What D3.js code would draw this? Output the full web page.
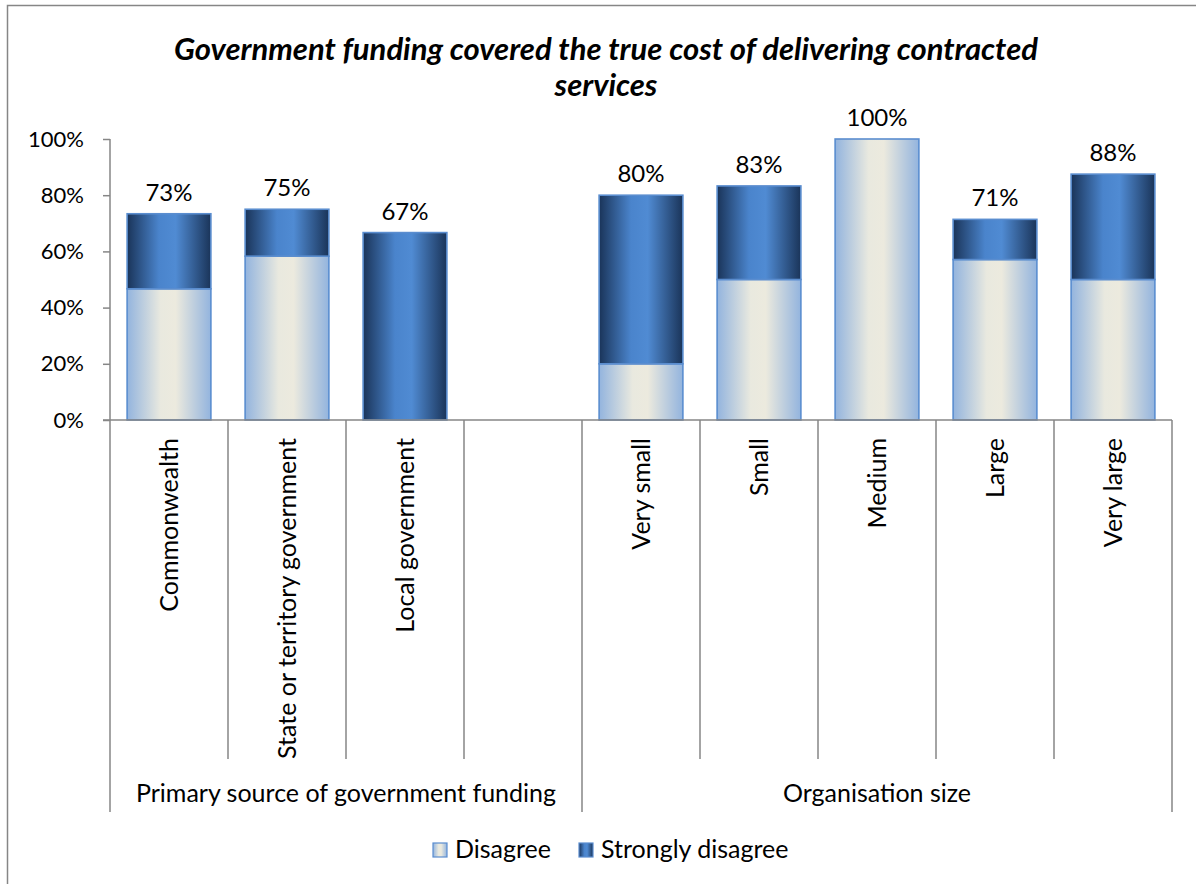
<!DOCTYPE html>
<html>
<head>
<meta charset="utf-8">
<script src="https://cdn.jsdelivr.net/npm/d3@7/dist/d3.min.js"></script>
<style>
  html, body { margin: 0; padding: 0; background: #ffffff; }
  svg { display: block; }
  text { font-family: Lato, "Open Sans", sans-serif; fill: #000; }
</style>
</head>
<body>
<svg id="chart" width="1196" height="884"></svg>
<script>
// Survey responses (% of organisations) by category
const categories = ["Commonwealth", "State or territory government", "Local government", "",
                    "Very small", "Small", "Medium", "Large", "Very large"];
const disagree         = [46.7, 58.3, 0,    null, 20, 50,   100, 57.1, 50];
const stronglyDisagree = [26.7, 16.7, 66.7, null, 60, 33.3, 0,   14.3, 37.5];
const groupNames = ["Primary source of government funding", "Organisation size"];
const groupSizes = [4, 5];
const seriesNames = ["Disagree", "Strongly disagree"];
const yTicks = [0, 20, 40, 60, 80, 100];
const titleLines = ["Government funding covered the true cost of delivering contracted", "services"];

const svg = d3.select("#chart");
const axisColor = "#868686";

// chart frame
svg.append("path")
  .attr("d", "M7.5,884 V5.5 H1196")
  .attr("fill", "none").attr("stroke", axisColor).attr("stroke-width", 1.5);

// gradients
const defs = svg.append("defs");
function hGrad(id, stops) {
  const g = defs.append("linearGradient").attr("id", id)
    .attr("x1", "0%").attr("x2", "100%").attr("y1", "0%").attr("y2", "0%");
  stops.forEach(([o, c]) => g.append("stop").attr("offset", o).attr("stop-color", c));
}
hGrad("gradDisagree", [[0, "#93b4de"], [0.4, "#e9e9df"], [0.58, "#eceade"], [1, "#93b4de"]]);
hGrad("gradStrong",   [[0, "#1a3459"], [0.38, "#4a84cc"], [0.58, "#508bd3"], [1, "#1a3459"]]);
const fills = ["url(#gradDisagree)", "url(#gradStrong)"];
const strokeCol = "#5a8dcf";

// scales
const x = d3.scaleBand()
  .domain(d3.range(categories.length))
  .range([110, 1172])
  .paddingInner(0.29)
  .paddingOuter(0.145);
const step = x.step();
const y = d3.scaleLinear().domain([0, 100]).range([420, 139]);

// title
svg.append("g").selectAll("text").data(titleLines).join("text")
  .attr("x", 606).attr("y", (d, i) => 60 + i * 36)
  .attr("text-anchor", "middle")
  .style("font-size", "31px").style("font-weight", "bold").style("font-style", "italic")
  .text(d => d);

// y axis
const yAxis = d3.axisLeft(y).tickValues(yTicks).tickFormat(d => d + "%").tickSize(7).tickPadding(19);
const yg = svg.append("g").attr("transform", "translate(110,0)").call(yAxis);
yg.selectAll("line, path").attr("stroke", axisColor).attr("stroke-width", 1.5);
yg.select(".domain").attr("d", `M0,${y(100)}V${y(0)}`);
yg.selectAll("text").style("font-size", "22px").style("font-family", "Lato, sans-serif").attr("fill", "#000");

// bars: stacked
const stackData = categories.map((c, i) => ({ i, d: disagree[i], s: stronglyDisagree[i] }))
  .filter(o => o.d !== null);
const stack = d3.stack().keys(["d", "s"])(stackData);
const barG = svg.append("g");
stack.forEach((layer, li) => {
  barG.append("g").selectAll("rect").data(layer.filter(p => p[1] - p[0] > 0)).join("rect")
    .attr("x", p => x(p.data.i))
    .attr("width", x.bandwidth())
    .attr("y", p => y(p[1]))
    .attr("height", p => y(p[0]) - y(p[1]))
    .attr("fill", fills[li])
    .attr("stroke", strokeCol).attr("stroke-width", 1.6);
});

// value labels (totals)
svg.append("g").selectAll("text").data(stackData).join("text")
  .attr("x", o => x(o.i) + x.bandwidth() / 2)
  .attr("y", o => y(o.d + o.s) - 13)
  .attr("text-anchor", "middle")
  .style("font-size", "24px")
  .text(o => Math.round(o.d + o.s) + "%");

// x axis base line
svg.append("line").attr("x1", 103).attr("x2", 1172).attr("y1", y(0)).attr("y2", y(0))
  .attr("stroke", axisColor).attr("stroke-width", 1.5);

// category divider lines
const groupStarts = [0];
groupSizes.forEach((s, i) => groupStarts.push(groupStarts[i] + s));
const xLeft = 110;
const bounds = d3.range(categories.length + 1);
svg.append("g").selectAll("line").data(bounds).join("line")
  .attr("x1", k => xLeft + k * step).attr("x2", k => xLeft + k * step)
  .attr("y1", y(0)).attr("y2", k => groupStarts.includes(k) ? 812 : 759)
  .attr("stroke", axisColor).attr("stroke-width", 1.5);

// rotated category labels
svg.append("g").selectAll("text").data(categories.map((c, i) => ({ c, i })).filter(o => o.c)).join("text")
  .attr("transform", o => `translate(${x(o.i) + x.bandwidth() / 2},438) rotate(-90)`)
  .attr("text-anchor", "end").attr("dy", "0.36em")
  .style("font-size", "25px")
  .text(o => o.c);

// group labels
svg.append("g").selectAll("text").data(groupNames).join("text")
  .attr("x", (g, i) => xLeft + (groupStarts[i] + groupSizes[i] / 2) * step)
  .attr("y", 802)
  .attr("text-anchor", "middle")
  .style("font-size", "25px")
  .text(g => g);

// legend
const legendX = [433, 579];
const lg = svg.append("g").selectAll("g").data(seriesNames).join("g")
  .attr("transform", (d, i) => `translate(${legendX[i]},843)`);
lg.append("rect").attr("width", 14).attr("height", 14)
  .attr("fill", (d, i) => fills[i]).attr("stroke", strokeCol).attr("stroke-width", 1.2);
lg.append("text").attr("x", 22).attr("y", 15).style("font-size", "25px").text(d => d);
</script>
</body>
</html>
